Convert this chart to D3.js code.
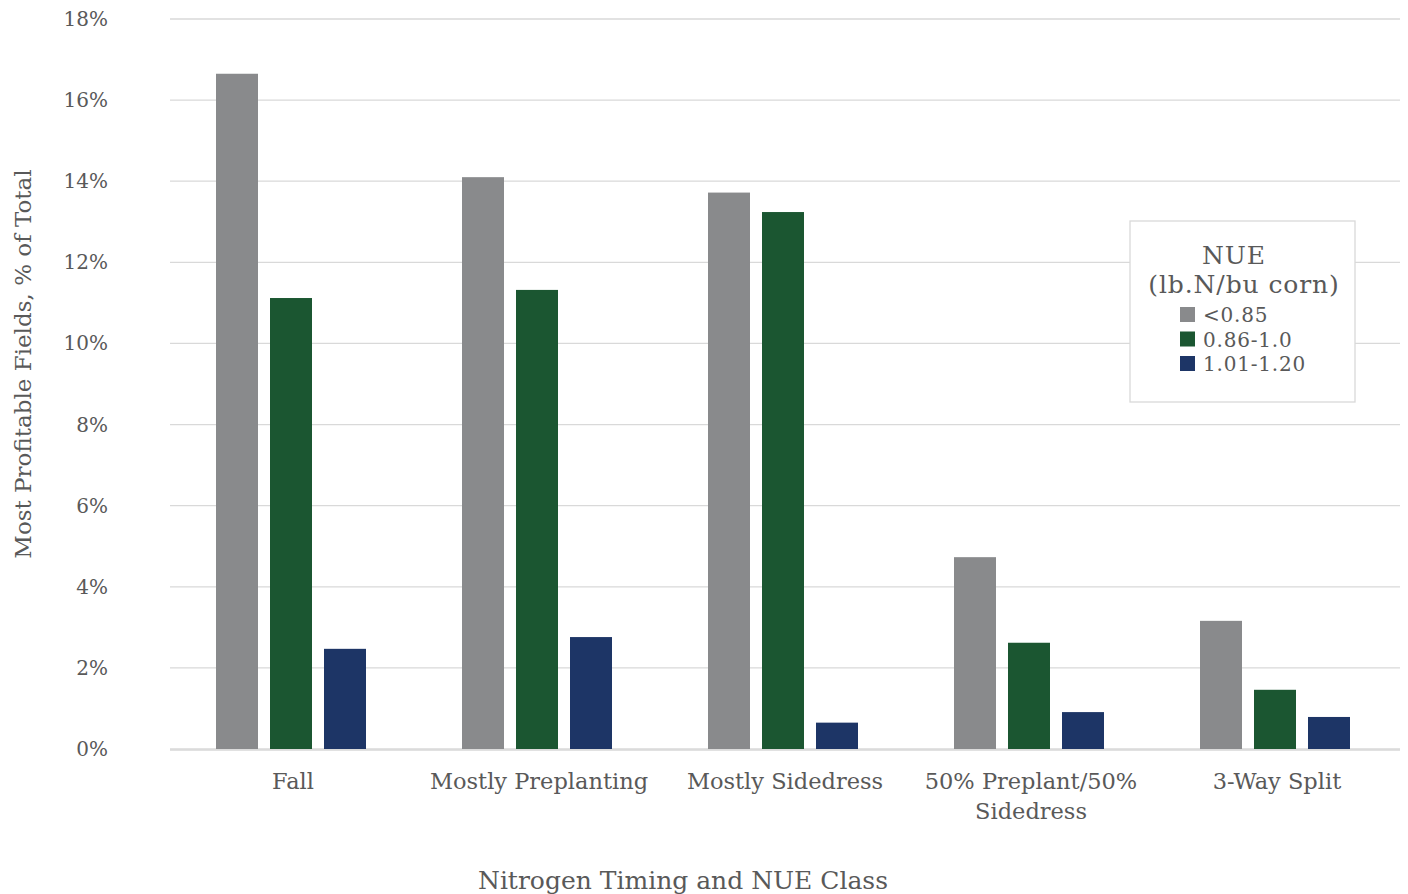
<!DOCTYPE html>
<html>
<head>
<meta charset="utf-8">
<script src="https://cdn.jsdelivr.net/npm/d3@7"></script>
<style>
  body { margin: 0; background: #fff; }
  text { font-family: "DejaVu Serif", "Liberation Serif", serif; fill: #595959; }
</style>
</head>
<body>
<div id="chart"></div>
<script>
var categories = ["Fall", "Mostly Preplanting", "Mostly Sidedress", "50% Preplant/50% Sidedress", "3-Way Split"];
var seriesNames = ["<0.85", "0.86-1.0", "1.01-1.20"];
var lowNue = [16.65, 14.1, 13.72, 4.73, 3.16];
var midNue = [11.12, 11.32, 13.24, 2.62, 1.46];
var highNue = [2.47, 2.76, 0.65, 0.91, 0.79];
var yTicks = [0, 2, 4, 6, 8, 10, 12, 14, 16, 18];
var colors = ["#898a8c", "#1b5631", "#1d3566"];

var seriesValues = [lowNue, midNue, highNue];

var width = 1408, height = 894;
var margin = { left: 170, right: 8, top: 19, bottom: 145 };

var svg = d3.select("#chart").append("svg")
    .attr("width", width)
    .attr("height", height);

var x = d3.scaleBand()
    .domain(d3.range(categories.length))
    .range([margin.left, width - margin.right]);

var y = d3.scaleLinear()
    .domain([0, 18])
    .range([height - margin.bottom, margin.top]);

var inner = d3.scaleBand()
    .domain(d3.range(seriesNames.length))
    .range([46, 196])
    .paddingInner(12 / 54)
    .paddingOuter(0);

// gridlines
svg.append("g").selectAll("line")
    .data(yTicks)
    .enter().append("line")
    .attr("x1", margin.left)
    .attr("x2", width - margin.right)
    .attr("y1", function (d) { return y(d); })
    .attr("y2", function (d) { return y(d); })
    .style("stroke", "#d9d9d9")
    .style("stroke-width", 1.3);

// y labels
svg.append("g").selectAll("text")
    .data(yTicks)
    .enter().append("text")
    .attr("x", 108)
    .attr("y", function (d) { return y(d); })
    .attr("dy", "0.35em")
    .attr("text-anchor", "end")
    .style("font-size", "20px")
    .text(function (d) { return d + "%"; });

// bars
var groups = svg.selectAll(".grp")
    .data(categories)
    .enter().append("g")
    .attr("class", "grp")
    .attr("transform", function (d, i) { return "translate(" + x(i) + ",0)"; });

groups.selectAll("rect")
    .data(function (d, i) { return seriesValues.map(function (s, j) { return { s: j, v: s[i] }; }); })
    .enter().append("rect")
    .attr("x", function (d) { return inner(d.s); })
    .attr("width", inner.bandwidth())
    .attr("y", function (d) { return y(d.v); })
    .attr("height", function (d) { return y(0) - y(d.v); })
    .style("fill", function (d) { return colors[d.s]; });

// zero line over bars
svg.append("line")
    .attr("x1", margin.left)
    .attr("x2", width - margin.right)
    .attr("y1", y(0) + 1)
    .attr("y2", y(0) + 1)
    .style("stroke", "#d9d9d9")
    .style("stroke-opacity", 0.8)
    .style("stroke-width", 2);

// category labels
var catLines = [["Fall"], ["Mostly Preplanting"], ["Mostly Sidedress"], ["50% Preplant/50%", "Sidedress"], ["3-Way Split"]];
svg.append("g").selectAll("text")
    .data(catLines)
    .enter().append("text")
    .attr("x", function (d, i) { return x(i) + x.bandwidth() / 2; })
    .attr("y", 789)
    .attr("text-anchor", "middle")
    .style("font-size", "22.5px")
    .each(function (d) {
        var t = d3.select(this);
        d.forEach(function (line, k) {
            t.append("tspan")
                .attr("x", t.attr("x"))
                .attr("dy", k === 0 ? 0 : 30)
                .text(line);
        });
    });

// axis titles
svg.append("text")
    .attr("x", 683)
    .attr("y", 889)
    .attr("text-anchor", "middle")
    .style("font-size", "25px")
    .text("Nitrogen Timing and NUE Class");

svg.append("text")
    .attr("transform", "translate(31,364) rotate(-90)")
    .attr("text-anchor", "middle")
    .style("font-size", "23px")
    .text("Most Profitable Fields, % of Total");

// legend
var legend = svg.append("g").attr("transform", "translate(1130,221)");
legend.append("rect")
    .attr("width", 225)
    .attr("height", 181)
    .style("fill", "#fff")
    .style("stroke", "#d9d9d9")
    .style("stroke-width", 1.3);

legend.append("text")
    .attr("x", 104)
    .attr("y", 43)
    .attr("text-anchor", "middle")
    .style("font-size", "25px")
    .style("letter-spacing", "1px")
    .text("NUE");
legend.append("text")
    .attr("x", 114)
    .attr("y", 72)
    .attr("text-anchor", "middle")
    .style("font-size", "25px")
    .style("letter-spacing", "0.9px")
    .text("(lb.N/bu corn)");

var items = legend.selectAll(".item")
    .data(seriesNames)
    .enter().append("g")
    .attr("class", "item")
    .attr("transform", function (d, i) { return "translate(50," + (86 + i * 24.5) + ")"; });

items.append("rect")
    .attr("width", 15)
    .attr("height", 15)
    .style("fill", function (d, i) { return colors[i]; });

items.append("text")
    .attr("x", 23)
    .attr("y", 8)
    .attr("dy", "0.35em")
    .style("font-size", "20px")
    .style("letter-spacing", "0.8px")
    .text(function (d) { return d; });
</script>
</body>
</html>
